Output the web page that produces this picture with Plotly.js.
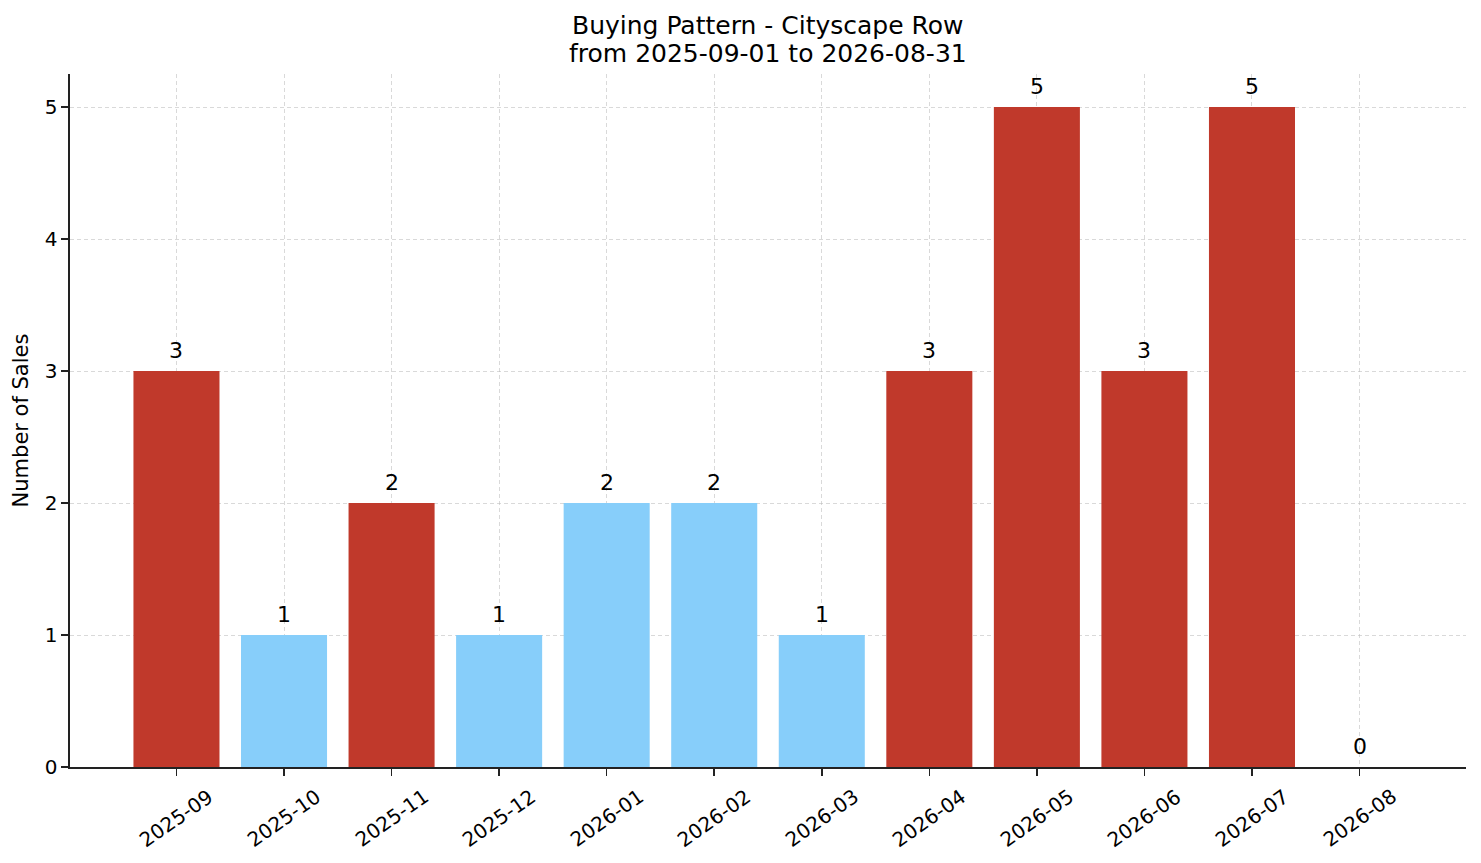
<!DOCTYPE html>
<html>
<head>
<meta charset="utf-8">
<script src="https://cdn.plot.ly/plotly-3.0.1.min.js"></script>
<style>
  html, body { margin: 0; padding: 0; background: #fff; }
  #chart { width: 1481px; height: 863px; }
</style>
</head>
<body>
<div id="chart"></div>
<script>
var months = ['2025-09', '2025-10', '2025-11', '2025-12', '2026-01', '2026-02',
              '2026-03', '2026-04', '2026-05', '2026-06', '2026-07', '2026-08'];
var sales = [3, 1, 2, 1, 2, 2, 1, 3, 5, 3, 5, 0];
var highlighted = [true, false, true, false, false, false, false, true, true, true, true, false];
var titleLines = ['Buying Pattern - Cityscape Row', 'from 2025-09-01 to 2026-08-31'];

var RED = '#c0392b';
var BLUE = '#87cefa';
var font = 'DejaVu Sans, sans-serif';
var gridColor = 'rgba(185,185,185,0.55)';

var xIdx = months.map(function (m, i) { return i; });

var bars = {
  type: 'bar',
  x: xIdx,
  y: sales,
  width: 0.8,
  marker: { color: highlighted.map(function (h) { return h ? RED : BLUE; }), line: { width: 0 } },
  hoverinfo: 'x+y'
};

var annotations = [];

// title, one annotation per line so the line spacing can be tightened
titleLines.forEach(function (t, i) {
  annotations.push({
    x: 0.5, y: 1, xref: 'paper', yref: 'paper',
    text: t,
    showarrow: false,
    xanchor: 'center', yanchor: 'bottom',
    yshift: 4 + (titleLines.length - 1 - i) * 28,
    font: { family: font, size: 25, color: '#000' }
  });
});

// value labels above each bar
sales.forEach(function (v, i) {
  annotations.push({
    x: i, y: v, xref: 'x', yref: 'y',
    text: String(v),
    showarrow: false,
    xanchor: 'center', yanchor: 'bottom',
    yshift: 6,
    font: { family: font, size: 22, color: '#000' }
  });
});

// month labels, rotated and centred under each tick
months.forEach(function (m, i) {
  annotations.push({
    x: i, y: 0, xref: 'x', yref: 'paper',
    text: m,
    showarrow: false,
    textangle: -35,
    xanchor: 'center', yanchor: 'top',
    yshift: -14,
    font: { family: font, size: 20, color: '#000' }
  });
});

var layout = {
  width: 1481,
  height: 863,
  showlegend: false,
  plot_bgcolor: '#fff',
  paper_bgcolor: '#fff',
  margin: { l: 70, r: 15, t: 74, b: 96 },
  font: { family: font, color: '#000' },
  xaxis: {
    range: [-0.99, 11.99],
    tickmode: 'array',
    tickvals: xIdx,
    showticklabels: false,
    ticks: 'outside', ticklen: 7, tickwidth: 1.6, tickcolor: '#222',
    showline: true, linecolor: '#222', linewidth: 1.6,
    showgrid: true, gridcolor: gridColor, griddash: '4px,3px', gridwidth: 1,
    zeroline: false,
    layer: 'above traces',
    fixedrange: true
  },
  yaxis: {
    range: [0, 5.25],
    tickmode: 'linear', tick0: 0, dtick: 1,
    tickfont: { family: font, size: 20, color: '#000' },
    ticks: 'outside', ticklen: 7, tickwidth: 1.6, tickcolor: '#222',
    showline: true, linecolor: '#222', linewidth: 1.6,
    showgrid: true, gridcolor: gridColor, griddash: '4px,3px', gridwidth: 1,
    zeroline: false,
    layer: 'above traces',
    title: { text: 'Number of Sales', font: { family: font, size: 21, color: '#000' }, standoff: 10 },
    fixedrange: true
  },
  annotations: annotations
};

Plotly.newPlot('chart', [bars], layout, { displayModeBar: false, staticPlot: true });
</script>
</body>
</html>
